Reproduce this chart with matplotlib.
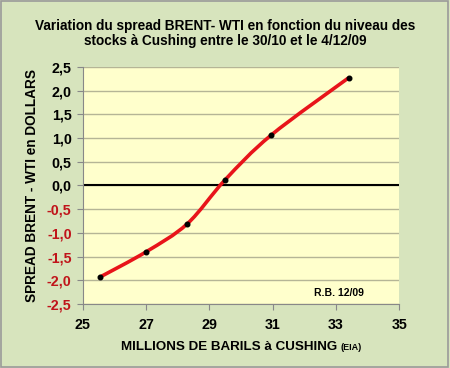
import numpy as np
import matplotlib
matplotlib.use("Agg")
import matplotlib.pyplot as plt
from matplotlib.path import Path
from matplotlib.patches import PathPatch, Rectangle

plt.rcParams['font.family'] = ['Liberation Sans', 'DejaVu Sans']

# data
stocks = [25.55, 27.0, 28.3, 29.5, 30.95, 33.4]
spread = [-1.93, -1.40, -0.81, 0.12, 1.06, 2.27]
xticks = [25, 27, 29, 31, 33, 35]
yticks = [-2.5, -2.0, -1.5, -1.0, -0.5, 0.0, 0.5, 1.0, 1.5, 2.0, 2.5]

bg = '#d7e4bd'
face = '#ffffcc'

fig = plt.figure(figsize=(4.5, 3.68), dpi=100, facecolor=bg)
fig.patches.append(Rectangle((0.002, 0.003), 0.994, 0.994, transform=fig.transFigure,
                             fill=False, edgecolor='#9a9a9a', linewidth=1.2))
ax = fig.add_axes([0.184, 0.174, 0.703, 0.644])
ax.set_facecolor(face)

# smoothed line like Excel (Catmull-Rom as bezier)
x = np.array(stocks)
y = np.array(spread)
verts = [(x[0], y[0])]
codes = [Path.MOVETO]
n = len(x)
for i in range(n - 1):
    p0 = np.array([x[max(i - 1, 0)], y[max(i - 1, 0)]])
    p1 = np.array([x[i], y[i]])
    p2 = np.array([x[i + 1], y[i + 1]])
    p3 = np.array([x[min(i + 2, n - 1)], y[min(i + 2, n - 1)]])
    c1 = p1 + (p2 - p0) / 6.0
    c2 = p2 - (p3 - p1) / 6.0
    verts += [tuple(c1), tuple(c2), tuple(p2)]
    codes += [Path.CURVE4] * 3
ax.add_patch(PathPatch(Path(verts, codes), facecolor='none', edgecolor='#e8141a',
                       linewidth=2.6, zorder=3))
ax.plot(stocks, spread, 'o', color='black', markersize=3.3, zorder=4)

ax.axhline(0, color='black', linewidth=1.5, zorder=2)
ax.set_xlim(25, 35)
ax.set_ylim(-2.5, 2.5)
ax.set_xticks(xticks)
ax.set_yticks(yticks)
ax.set_xticklabels([str(t) for t in xticks])
ax.set_yticklabels([f"{t:.1f}".replace('.', ',') for t in yticks])
for lab, t in zip(ax.get_yticklabels(), yticks):
    lab.set_color('#c0141a' if t < 0 else 'black')
for lab in ax.get_xticklabels() + ax.get_yticklabels():
    lab.set_fontweight('bold')
    lab.set_fontsize(10.3)
ax.grid(axis='y', color='#b5b596', linewidth=1.0, zorder=1)
ax.set_axisbelow(True)
ax.tick_params(axis='x', direction='out', length=4, color='#888888', pad=6)
ax.tick_params(axis='y', direction='out', length=4, color='#888888', pad=4)
for s in ['top', 'right']:
    ax.spines[s].set_visible(False)
for s in ['left', 'bottom']:
    ax.spines[s].set_color('#888888')

ax.set_ylabel('SPREAD BRENT - WTI en DOLLARS', fontsize=9.8, fontweight='bold', labelpad=6)
fig.text(0.749, 0.057, 'MILLIONS DE BARILS à CUSHING', ha='right', va='center',
         fontsize=9.6, fontweight='bold')
fig.text(0.756, 0.055, '(EIA)', ha='left', va='center', fontsize=6.5, fontweight='bold')
ax.text(0.89, 0.045, 'R.B. 12/09', transform=ax.transAxes, ha='right', va='center',
        fontsize=7.5, fontweight='bold')

fig.text(0.5, 0.91, 'Variation du spread BRENT- WTI en fonction du niveau des\nstocks à Cushing entre le 30/10 et le 4/12/09',
         ha='center', va='center', fontsize=9.8, fontweight='bold', linespacing=1.1)

fig.savefig('out.png', dpi=100, facecolor=bg)
